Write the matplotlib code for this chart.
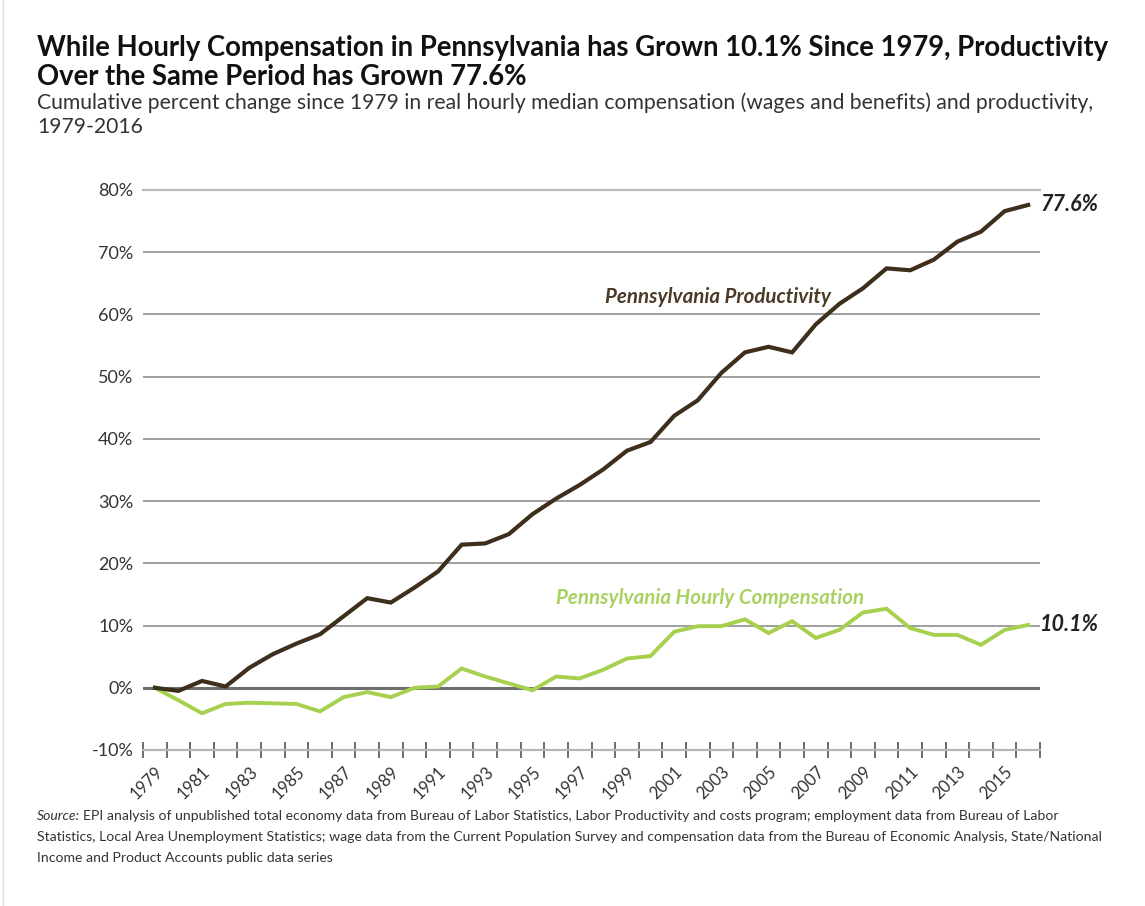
import matplotlib
matplotlib.use("Agg")
import matplotlib.pyplot as plt
import numpy as np

# Cumulative percent change since 1979
years = list(range(1979, 2017))
productivity = [0.0, -0.5, 1.1, 0.2, 3.2, 5.4, 7.1, 8.6, 11.5, 14.4,
                13.7, 16.1, 18.7, 23.0, 23.2, 24.7, 27.9, 30.4, 32.6, 35.1,
                38.1, 39.5, 43.7, 46.2, 50.6, 53.9, 54.8, 53.9, 58.4, 61.7,
                64.2, 67.4, 67.1, 68.8, 71.7, 73.3, 76.6, 77.6]
compensation = [0.0, -2.0, -4.1, -2.6, -2.4, -2.5, -2.6, -3.8, -1.5, -0.7,
                -1.5, 0.0, 0.2, 3.1, 1.8, 0.7, -0.4, 1.8, 1.5, 2.9,
                4.7, 5.1, 9.0, 9.9, 9.9, 11.0, 8.8, 10.7, 8.0, 9.3,
                12.1, 12.7, 9.6, 8.5, 8.5, 6.9, 9.3, 10.1]
y_ticks = [-10, 0, 10, 20, 30, 40, 50, 60, 70, 80]
x_labels = [str(y) for y in years[::2]]

BROWN = "#3e2f1d"
BROWN_TXT = "#4a3a26"
GREEN = "#a6d04e"
GREEN_TXT = "#a9d160"

plt.rcParams["font.family"] = ["Lato", "DejaVu Sans"]

W, H = 1145, 906
fig = plt.figure(figsize=(W / 100, H / 100), dpi=100)
fig.patch.set_facecolor("white")

def fx(px):
    return px / W

def fy(py):
    return 1 - py / H

ax = fig.add_axes([fx(143), fy(750), (1040 - 143) / W, (750 - 190) / H])
idx = np.arange(len(years))
ax.set_xlim(-0.5, len(years) - 0.5)
ax.set_ylim(-10, 80)

# horizontal gridlines
for v in y_ticks:
    if v == -10:
        continue
    if v == 0:
        ax.axhline(v, color="#6f6f6f", lw=2.2, zorder=1)
    elif v == 80:
        ax.axhline(v, color="#bdbdbd", lw=1.6, zorder=1, clip_on=False)
    else:
        ax.axhline(v, color="#8f8f8f", lw=1.2, zorder=1)

ax.plot(idx, compensation, color=GREEN, lw=2.8, solid_joinstyle="miter", zorder=3)
ax.plot(idx, productivity, color=BROWN, lw=3.0, solid_joinstyle="miter", zorder=4)

for s in ["top", "right", "left"]:
    ax.spines[s].set_visible(False)
ax.spines["bottom"].set_color("#b5b5b5")
ax.spines["bottom"].set_linewidth(1.6)

ax.set_yticks(y_ticks)
ax.set_yticklabels([f"{v}%" for v in y_ticks], fontsize=13, color="#333333")
ax.tick_params(axis="y", length=0, pad=7)

ax.set_xticks(np.arange(-0.5, len(years) + 0.5, 1.0))
ax.set_xticklabels([])
ax.tick_params(axis="x", which="major", direction="inout", length=12,
               width=1.1, color="#444444")
ax.set_xticks(idx[::2], minor=True)
ax.set_xticklabels(x_labels, minor=True, rotation=45, ha="right",
                   rotation_mode="anchor", fontsize=12, color="#333333")
ax.tick_params(axis="x", which="minor", length=0, pad=10)

# end-of-line values
ax.text(len(years) - 1 + 0.5, productivity[-1], f"{productivity[-1]}%",
        fontsize=15.5, fontweight="bold", style="italic", color="#222222",
        va="center", ha="left")
ax.text(len(years) - 1 + 0.5, compensation[-1], f"{compensation[-1]}%",
        fontsize=15.5, fontweight="bold", style="italic", color="#222222",
        va="center", ha="left")

# series labels
ax.text(23.86, 62.8, "Pennsylvania Productivity", fontsize=14.8,
        fontweight="bold", style="italic", color=BROWN_TXT,
        ha="center", va="center")
ax.text(23.52, 14.5, "Pennsylvania Hourly Compensation", fontsize=14.8,
        fontweight="bold", style="italic", color=GREEN_TXT,
        ha="center", va="center")

# titles
fig.text(fx(37), fy(48), "While Hourly Compensation in Pennsylvania has Grown 10.1% Since 1979, Productivity",
         fontsize=19.8, fontweight="bold", color="#111111", va="center", ha="left")
fig.text(fx(37), fy(77), "Over the Same Period has Grown 77.6%",
         fontsize=19.8, fontweight="bold", color="#111111", va="center", ha="left")
fig.text(fx(37), fy(103), "Cumulative percent change since 1979 in real hourly median compensation (wages and benefits) and productivity,",
         fontsize=15.2, color="#333333", va="center", ha="left")
fig.text(fx(37), fy(127), "1979-2016", fontsize=15.2, color="#333333",
         va="center", ha="left")

# source note
SRC_SIZE = 10.1
renderer = fig.canvas.get_renderer()
src_label = fig.text(fx(37), fy(816), "Source:", fontsize=SRC_SIZE, style="italic",
                     color="#333333", va="center", ha="left")
bb = src_label.get_window_extent(renderer)
fig.text((bb.x1 + 3) / W, fy(816),
         "EPI analysis of unpublished total economy data from Bureau of Labor Statistics, Labor Productivity and costs program; employment data from Bureau of Labor",
         fontsize=SRC_SIZE, color="#333333", va="center", ha="left")
fig.text(fx(37), fy(837),
         "Statistics, Local Area Unemployment Statistics; wage data from the Current Population Survey and compensation data from the Bureau of Economic Analysis, State/National",
         fontsize=SRC_SIZE, color="#333333", va="center", ha="left")
fig.text(fx(37), fy(858), "Income and Product Accounts public data series",
         fontsize=SRC_SIZE, color="#333333", va="center", ha="left")

# thin frame line on the left edge
fig.add_artist(plt.Line2D([fx(3), fx(3)], [0, 1], color="#dddddd", lw=1))

fig.savefig("out.png", dpi=100, facecolor="white")
